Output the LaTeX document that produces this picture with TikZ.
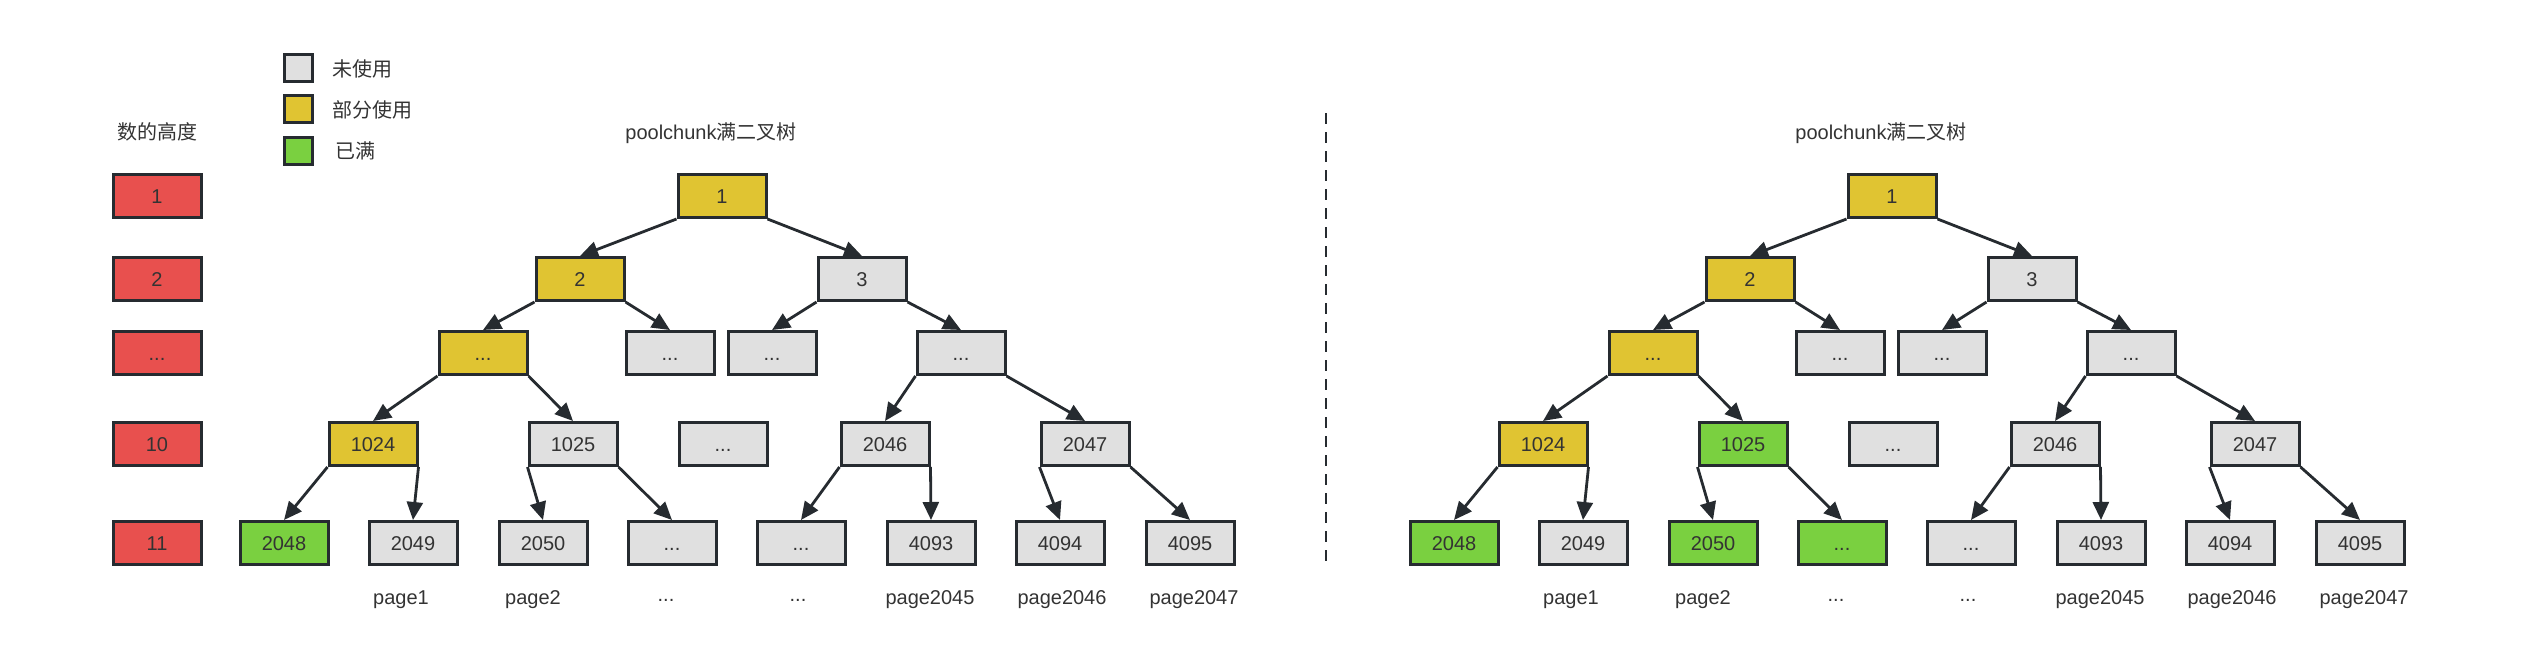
\documentclass[tikz,border=0pt]{standalone}
\usepackage{fontspec}
\setmainfont{Liberation Sans}
\newfontfamily\cjk{Noto Sans CJK SC}
\usepackage{tikz}
\usepackage{xcolor}
\usetikzlibrary{positioning, arrows.meta}

\definecolor{boxline}{RGB}{38,43,48}
\definecolor{txt}{RGB}{51,51,51}
\definecolor{freefill}{RGB}{224,224,224}
\definecolor{partfill}{RGB}{224,196,50}
\definecolor{fullfill}{RGB}{122,208,64}
\definecolor{levelfill}{RGB}{232,80,78}

\tikzset{
  block/.style={rectangle, draw=boxline, line width=1.5pt, minimum width=44pt, minimum height=21.5pt, inner sep=0pt, text=txt, text height=7.2pt, text depth=0pt, font=\fontsize{10}{12}\selectfont},
  freenode/.style={block, fill=freefill},
  partnode/.style={block, fill=partfill},
  fullnode/.style={block, fill=fullfill},
  levelnode/.style={block, fill=levelfill},
  keybox/.style={rectangle, draw=boxline, line width=1.5pt, minimum width=14pt, minimum height=13.5pt, inner sep=0pt},
  caption/.style={text=txt, inner sep=0pt, font=\fontsize{10}{12}\selectfont},
  link/.style={draw=boxline, line width=1.4pt, -{Triangle[length=9pt, width=8pt]}},
  divider/.style={draw=boxline, line width=1pt, dash pattern=on 5.5pt off 4pt}
}

\begin{document}
\begin{tikzpicture}[x=0.5pt, y=-0.5pt]
            \useasboundingbox (0, 0) rectangle (2522, 664);

            \node[caption] (heighttitle) at (157, 132) {\cjk 数的高度};
            \node[levelnode] (h1) at (157, 196) {1};
            \node[levelnode] (h2) at (157, 279) {2};
            \node[levelnode] (h3) at (157, 353) {...};
            \node[levelnode] (h10) at (157, 444) {10};
            \node[levelnode] (h11) at (157, 543) {11};

            \node[keybox, fill=freefill] (kfree) at (298, 68) {};
            \node[keybox, fill=partfill] (kpart) at (298, 109) {};
            \node[keybox, fill=fullfill] (kfull) at (298, 151) {};
            \node[caption, anchor=west] (tfree) at (332, 69) {\cjk 未使用};
            \node[caption, anchor=west] (tpart) at (332, 110) {\cjk 部分使用};
            \node[caption, anchor=west] (tfull) at (335, 151) {\cjk 已满};

            \node[caption] (ltitle) at (711, 133) {poolchunk{\cjk 满二叉树}};
            \node[partnode] (l1) at (722, 196) {1};
            \node[partnode] (l2) at (580, 279) {2};
            \node[freenode] (l3) at (862, 279) {3};
            \node[partnode] (l4) at (483, 353) {...};
            \node[freenode] (l5) at (670, 353) {...};
            \node[freenode] (l6) at (772, 353) {...};
            \node[freenode] (l7) at (961, 353) {...};
            \node[partnode] (l1024) at (373, 444) {1024};
            \node[freenode] (l1025) at (573, 444) {1025};
            \node[freenode] (lmid) at (723, 444) {...};
            \node[freenode] (l2046) at (885, 444) {2046};
            \node[freenode] (l2047) at (1085, 444) {2047};
            \node[fullnode] (l2048) at (284, 543) {2048};
            \node[freenode] (l2049) at (413, 543) {2049};
            \node[freenode] (l2050) at (543, 543) {2050};
            \node[freenode] (l2051) at (672, 543) {...};
            \node[freenode] (l4092) at (801, 543) {...};
            \node[freenode] (l4093) at (931, 543) {4093};
            \node[freenode] (l4094) at (1060, 543) {4094};
            \node[freenode] (l4095) at (1190, 543) {4095};
            \node[caption] (lp1) at (401, 600) {page1};
            \node[caption] (lp2) at (533, 600) {page2};
            \node[caption] (lp3) at (666, 600) {...};
            \node[caption] (lp4) at (798, 600) {...};
            \node[caption] (lp2045) at (930, 600) {page2045};
            \node[caption] (lp2046) at (1062, 600) {page2046};
            \node[caption] (lp2047) at (1194, 600) {page2047};

            \draw[link] (l1.south west) -- (l2.north);
            \draw[link] (l1.south east) -- (l3.north);
            \draw[link] (l2.south west) -- (l4.north);
            \draw[link] (l2.south east) -- (l5.north);
            \draw[link] (l3.south west) -- (l6.north);
            \draw[link] (l3.south east) -- (l7.north);
            \draw[link] (l4.south west) -- (l1024.north);
            \draw[link] (l4.south east) -- (l1025.north);
            \draw[link] (l7.south west) -- (l2046.north);
            \draw[link] (l7.south east) -- (l2047.north);
            \draw[link] (l1024.south west) -- (l2048.north);
            \draw[link] (l1024.south east) -- (l2049.north);
            \draw[link] (l1025.south west) -- (l2050.north);
            \draw[link] (l1025.south east) -- (l2051.north);
            \draw[link] (l2046.south west) -- (l4092.north);
            \draw[link] (l2046.south east) -- (l4093.north);
            \draw[link] (l2047.south west) -- (l4094.north);
            \draw[link] (l2047.south east) -- (l4095.north);

            \coordinate (cuttop) at (1326, 113);
            \coordinate (cutbottom) at (1326, 566);
            \draw[divider] (cuttop) -- (cutbottom);

            \node[caption] (rtitle) at (1881, 133) {poolchunk{\cjk 满二叉树}};
            \node[partnode] (r1) at (1892, 196) {1};
            \node[partnode] (r2) at (1750, 279) {2};
            \node[freenode] (r3) at (2032, 279) {3};
            \node[partnode] (r4) at (1653, 353) {...};
            \node[freenode] (r5) at (1840, 353) {...};
            \node[freenode] (r6) at (1942, 353) {...};
            \node[freenode] (r7) at (2131, 353) {...};
            \node[partnode] (r1024) at (1543, 444) {1024};
            \node[fullnode] (r1025) at (1743, 444) {1025};
            \node[freenode] (rmid) at (1893, 444) {...};
            \node[freenode] (r2046) at (2055, 444) {2046};
            \node[freenode] (r2047) at (2255, 444) {2047};
            \node[fullnode] (r2048) at (1454, 543) {2048};
            \node[freenode] (r2049) at (1583, 543) {2049};
            \node[fullnode] (r2050) at (1713, 543) {2050};
            \node[fullnode] (r2051) at (1842, 543) {...};
            \node[freenode] (r4092) at (1971, 543) {...};
            \node[freenode] (r4093) at (2101, 543) {4093};
            \node[freenode] (r4094) at (2230, 543) {4094};
            \node[freenode] (r4095) at (2360, 543) {4095};
            \node[caption] (rp1) at (1571, 600) {page1};
            \node[caption] (rp2) at (1703, 600) {page2};
            \node[caption] (rp3) at (1836, 600) {...};
            \node[caption] (rp4) at (1968, 600) {...};
            \node[caption] (rp2045) at (2100, 600) {page2045};
            \node[caption] (rp2046) at (2232, 600) {page2046};
            \node[caption] (rp2047) at (2364, 600) {page2047};

            \draw[link] (r1.south west) -- (r2.north);
            \draw[link] (r1.south east) -- (r3.north);
            \draw[link] (r2.south west) -- (r4.north);
            \draw[link] (r2.south east) -- (r5.north);
            \draw[link] (r3.south west) -- (r6.north);
            \draw[link] (r3.south east) -- (r7.north);
            \draw[link] (r4.south west) -- (r1024.north);
            \draw[link] (r4.south east) -- (r1025.north);
            \draw[link] (r7.south west) -- (r2046.north);
            \draw[link] (r7.south east) -- (r2047.north);
            \draw[link] (r1024.south west) -- (r2048.north);
            \draw[link] (r1024.south east) -- (r2049.north);
            \draw[link] (r1025.south west) -- (r2050.north);
            \draw[link] (r1025.south east) -- (r2051.north);
            \draw[link] (r2046.south west) -- (r4092.north);
            \draw[link] (r2046.south east) -- (r4093.north);
            \draw[link] (r2047.south west) -- (r4094.north);
            \draw[link] (r2047.south east) -- (r4095.north);
        \end{tikzpicture}
\end{document}
